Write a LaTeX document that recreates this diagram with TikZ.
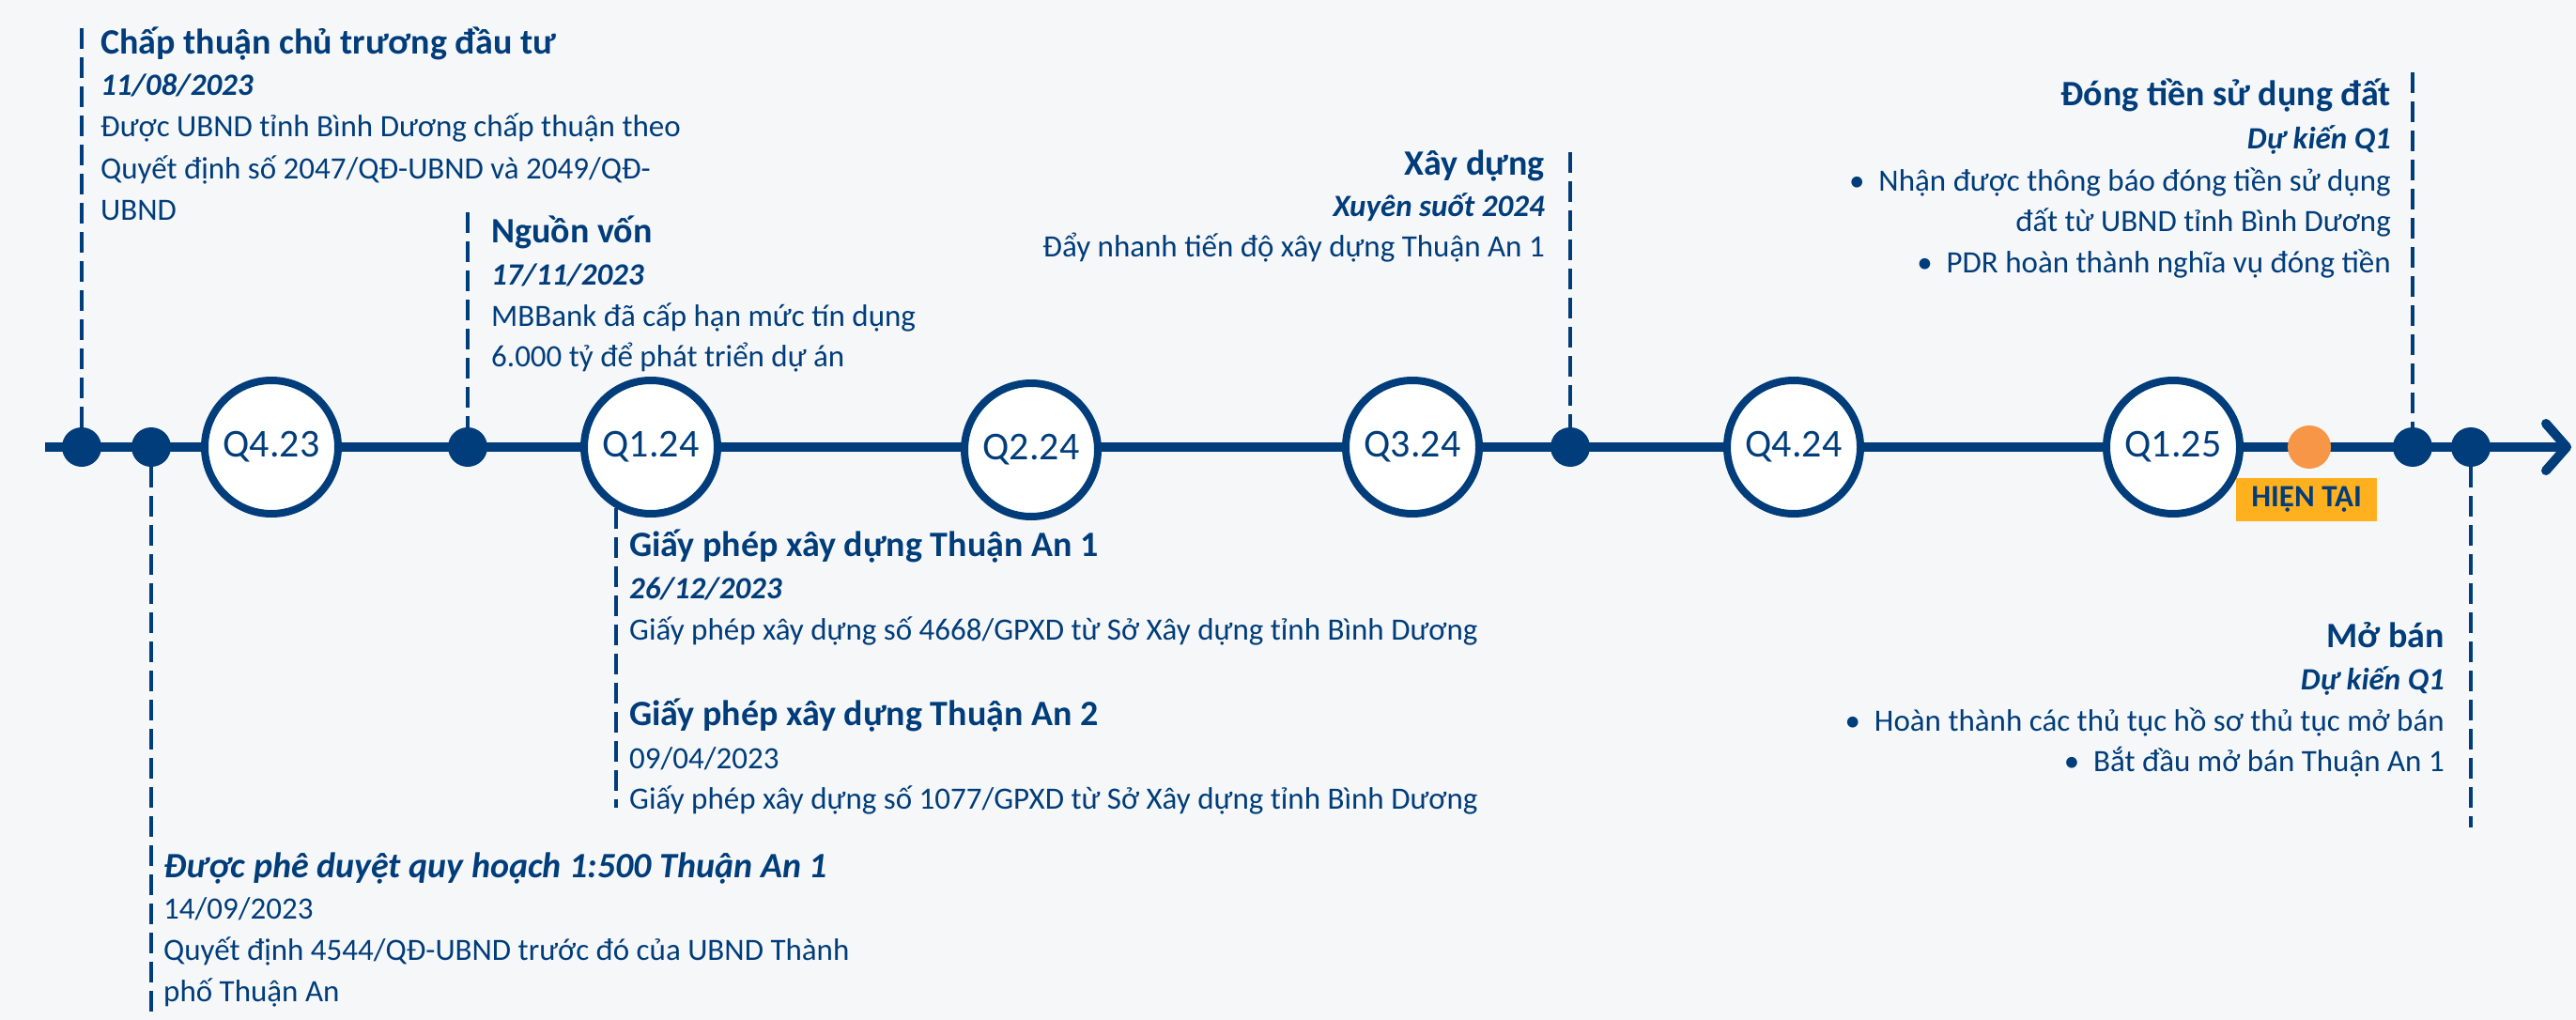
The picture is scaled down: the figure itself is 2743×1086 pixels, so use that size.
\documentclass[tikz,border=0pt]{standalone}
\usepackage{fontspec}
\setmainfont{Carlito}
\usetikzlibrary{arrows.meta}
\definecolor{navy}{RGB}{0,61,122}
\definecolor{orangedot}{RGB}{247,150,70}
\definecolor{hienbg}{RGB}{255,176,30}
\definecolor{bgc}{RGB}{246,247,249}
\begin{document}
\begin{tikzpicture}[x=1pt,y=-1pt,
  txt/.style={inner sep=0pt, text=navy, font=\fontsize{33}{40}\selectfont},
  ttl/.style={inner sep=0pt, text=navy, font=\fontsize{38}{46}\selectfont\bfseries},
  ttlit/.style={inner sep=0pt, text=navy, font=\fontsize{38}{46}\selectfont\bfseries\itshape},
  dte/.style={inner sep=0pt, text=navy, font=\fontsize{33}{40}\selectfont\bfseries\itshape},
  qnode/.style={circle, draw=navy, line width=8pt, fill=white, minimum size=142pt, inner sep=0pt, text=navy, font=\fontsize{42}{50}\selectfont},
  dotn/.style={circle, fill=navy, minimum size=42pt, inner sep=0pt},
  leader/.style={draw=navy, line width=4pt, dash pattern=on 22pt off 9pt},
  mainline/.style={draw=navy, line width=10pt}
]
\path[fill=bgc] (0,0) rectangle (2743,1086);
\useasboundingbox (0,0) rectangle (2743,1086);

% main axis
\coordinate (lstart) at (48,476);
\coordinate (lend) at (2738,476);
\draw[mainline, -{Straight Barb[length=22pt,width=50pt,round]}] (lstart) -- (lend);

% nodes on the axis
\node[dotn] (d1) at (87,476) {};
\node[dotn] (d2) at (161,476) {};
\node[qnode] (q423) at (289,476) {Q4.23};
\node[dotn] (d3) at (498,476) {};
\node[qnode] (q124) at (693,476) {Q1.24};
\node[qnode] (q224) at (1098,479) {Q2.24};
\node[qnode] (q324) at (1504,476) {Q3.24};
\node[dotn] (d4) at (1672,476) {};
\node[qnode] (q424) at (1910,476) {Q4.24};
\node[qnode] (q125) at (2314,476) {Q1.25};
\node[circle, fill=orangedot, minimum size=46pt, inner sep=0pt] (now) at (2459,476) {};
\node[dotn] (d5) at (2569,476) {};
\node[dotn] (d6) at (2631,476) {};
\node[fill=hienbg, text=navy, font=\fontsize{33}{40}\selectfont\bfseries, minimum width=150pt, minimum height=46pt, inner sep=0pt] (hien) at (2456,532) {HIỆN TẠI};

% leader end points
\coordinate (t1) at (87,30);
\coordinate (b2) at (161,1090);
\coordinate (t3) at (498,226);
\coordinate (b124) at (656,860);
\coordinate (t4) at (1672,162);
\coordinate (t5) at (2569,77);
\coordinate (b6) at (2631,881);

\draw[leader] (t1) -- (d1);
\draw[leader] (d2) -- (b2);
\draw[leader] (t3) -- (d3);
\draw[leader] (q124.240) -- (q124.240 |- b124);
\draw[leader] (t4) -- (d4);
\draw[leader] (t5) -- (d5);
\draw[leader] (d6) -- (b6);

% block 1
\node[ttl, anchor=base west] (a1) at (107,58) {Chấp thuận chủ trương đầu tư};
\node[dte, anchor=base west] (a2) at (107,102) {11/08/2023};
\node[txt, anchor=base west] (a3) at (107,146) {Được UBND tỉnh Bình Dương chấp thuận theo};
\node[txt, anchor=base west] (a4) at (107,191) {Quyết định số 2047/QĐ-UBND và 2049/QĐ-};
\node[txt, anchor=base west] (a5) at (107,234) {UBND};

% block 2
\node[ttl, anchor=base west] (b1) at (523,258) {Nguồn vốn};
\node[dte, anchor=base west] (bb2) at (523,303) {17/11/2023};
\node[txt, anchor=base west] (b3) at (523,347) {MBBank đã cấp hạn mức tín dụng};
\node[txt, anchor=base west] (b4) at (523,390) {6.000 tỷ để phát triển dự án};

% block 3
\node[ttl, anchor=base east] (c1) at (1645,187) {Xây dựng};
\node[dte, anchor=base east] (c2) at (1645,230) {Xuyên suốt 2024};
\node[txt, anchor=base east] (c3) at (1645,273) {Đẩy nhanh tiến độ xây dựng Thuận An 1};

% block 4
\node[ttl, anchor=base east] (e1) at (2546,113) {Đóng tiền sử dụng đất};
\node[dte, anchor=base east] (e2) at (2546,159) {Dự kiến Q1};
\node[txt, anchor=base east] (e3) at (2546,204) {•\hspace{0.45em}Nhận được thông báo đóng tiền sử dụng};
\node[txt, anchor=base east] (e4) at (2546,247) {đất từ UBND tỉnh Bình Dương};
\node[txt, anchor=base east] (e5) at (2546,290) {•\hspace{0.45em}PDR hoàn thành nghĩa vụ đóng tiền};

% block 5
\node[ttl, anchor=base west] (f1) at (670,592) {Giấy phép xây dựng Thuận An 1};
\node[dte, anchor=base west] (f2) at (670,637) {26/12/2023};
\node[txt, anchor=base west] (f3) at (670,681) {Giấy phép xây dựng số 4668/GPXD từ Sở Xây dựng tỉnh Bình Dương};
\node[ttl, anchor=base west] (f4) at (670,772) {Giấy phép xây dựng Thuận An 2};
\node[txt, anchor=base west] (f5) at (670,818) {09/04/2023};
\node[txt, anchor=base west] (f6) at (670,861) {Giấy phép xây dựng số 1077/GPXD từ Sở Xây dựng tỉnh Bình Dương};

% block 6
\node[ttlit, anchor=base west] (g1) at (174,934) {Được phê duyệt quy hoạch 1:500 Thuận An 1};
\node[txt, anchor=base west] (g2) at (174,978) {14/09/2023};
\node[txt, anchor=base west] (g3) at (174,1022) {Quyết định 4544/QĐ-UBND trước đó của UBND Thành};
\node[txt, anchor=base west] (g4) at (174,1066) {phố Thuận An};

% block 7
\node[ttl, anchor=base east] (h1) at (2603,689) {Mở bán};
\node[dte, anchor=base east] (h2) at (2603,734) {Dự kiến Q1};
\node[txt, anchor=base east] (h3) at (2603,778) {•\hspace{0.45em}Hoàn thành các thủ tục hồ sơ thủ tục mở bán};
\node[txt, anchor=base east] (h4) at (2603,821) {•\hspace{0.45em}Bắt đầu mở bán Thuận An 1};
\end{tikzpicture}
\end{document}
